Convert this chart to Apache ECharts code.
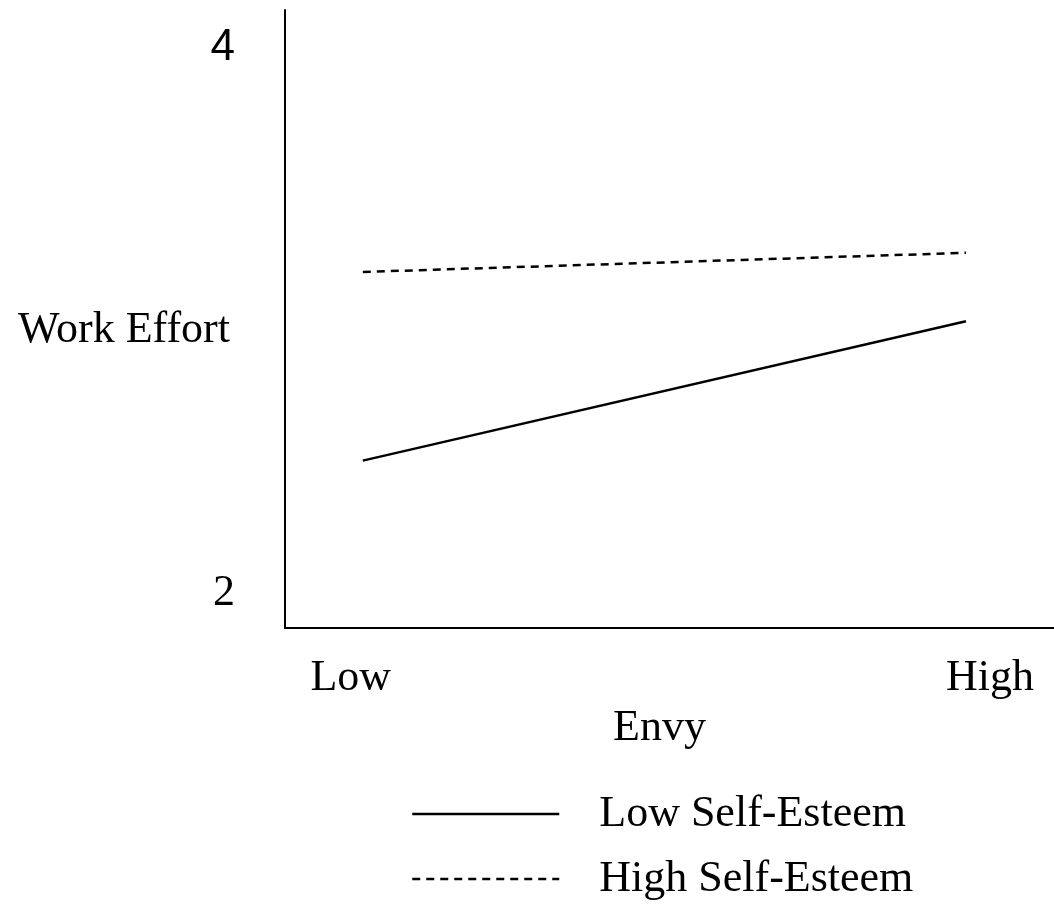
<!DOCTYPE html>
<html>
<head>
<meta charset="utf-8">
<script src="https://cdn.jsdelivr.net/npm/echarts@6/dist/echarts.min.js"></script>
<style>
  html, body { margin: 0; padding: 0; background: #fff; }
  #chart { width: 1054px; height: 909px; }
</style>
</head>
<body>
<div id="chart"></div>
<script>
  // envy level: 0 = Low, 1 = High
  const envyLevels = [0, 1];
  const envyNames = ['Low', 'High'];
  const lowSelfEsteem = [2.48, 2.99];
  const highSelfEsteem = [3.17, 3.24];
  const yTicks = [2, 4];

  const serif = '"Liberation Serif", "Times New Roman", serif';

  const chartObj = echarts.init(document.getElementById('chart'));

  function pairs(vals) {
    return envyLevels.map((x, i) => [x, vals[i]]);
  }

  chartObj.setOption({
    animation: false,
    backgroundColor: '#fff',
    textStyle: { fontFamily: serif, color: '#000' },
    grid: { left: 285, right: 0, top: 10, bottom: 281, outerBoundsMode: 'none' },
    legend: {
      orient: 'vertical',
      left: 411,
      top: 792,
      padding: 0,
      itemWidth: 147,
      itemHeight: 44,
      itemGap: 21,
      itemStyle: { opacity: 0 },
      lineStyle: { width: 2.5 },
      data: ['Low Self-Esteem', 'High Self-Esteem'],
      textStyle: { fontFamily: serif, fontSize: 44, color: '#000', padding: [0, 0, 0, 35] }
    },
    xAxis: {
      type: 'value',
      min: -0.129,
      max: 1.146,
      name: 'Envy',
      nameLocation: 'middle',
      nameGap: 78,
      nameMoveOverlap: false,
      nameTextStyle: { fontFamily: serif, fontSize: 44, color: '#000', padding: [0, 20, 0, 0] },
      axisLine: { show: true, onZero: false, lineStyle: { color: '#000', width: 2 } },
      axisTick: { show: false },
      splitLine: { show: false },
      axisLabel: {
        customValues: [-0.02, 1.04],
        margin: 28,
        fontFamily: serif,
        fontSize: 44,
        color: '#000',
        formatter: v => (v < 0.5 ? envyNames[0] : envyNames[1])
      }
    },
    yAxis: {
      type: 'value',
      min: 1.868,
      max: 4.128,
      name: '{n|Work Effort}',
      nameLocation: 'middle',
      nameRotate: 0,
      nameGap: 55,
      nameMoveOverlap: false,
      nameTextStyle: {
        fontFamily: serif, fontSize: 44, color: '#000',
        align: 'right', verticalAlign: 'middle',
        rich: {
          n: { fontFamily: serif, fontSize: 44, color: '#000', padding: [22, 0, 0, 0] }
        }
      },
      axisLine: { show: true, onZero: false, lineStyle: { color: '#000', width: 2 } },
      axisTick: { show: false },
      splitLine: { show: false },
      axisLabel: {
        customValues: yTicks,
        margin: 50,
        fontSize: 44,
        color: '#000',
        formatter: v => (v === 4 ? '{s|' + v + '}' : '{t|' + v + '}'),
        rich: {
          s: { fontFamily: '"Liberation Sans", Arial, sans-serif', fontSize: 44, color: '#000', padding: [6, 0, 0, 0] },
          t: { fontFamily: serif, fontSize: 44, color: '#000', padding: [4, 0, 0, 0] }
        }
      }
    },
    series: [
      {
        name: 'Low Self-Esteem',
        type: 'line',
        symbol: 'none',
        data: pairs(lowSelfEsteem),
        lineStyle: { color: '#000', width: 2.5, type: 'solid' },
        itemStyle: { color: '#000' }
      },
      {
        name: 'High Self-Esteem',
        type: 'line',
        symbol: 'none',
        data: pairs(highSelfEsteem),
        lineStyle: { color: '#000', width: 2.5, type: [8, 6] },
        itemStyle: { color: '#000' }
      }
    ]
  });
</script>
</body>
</html>
